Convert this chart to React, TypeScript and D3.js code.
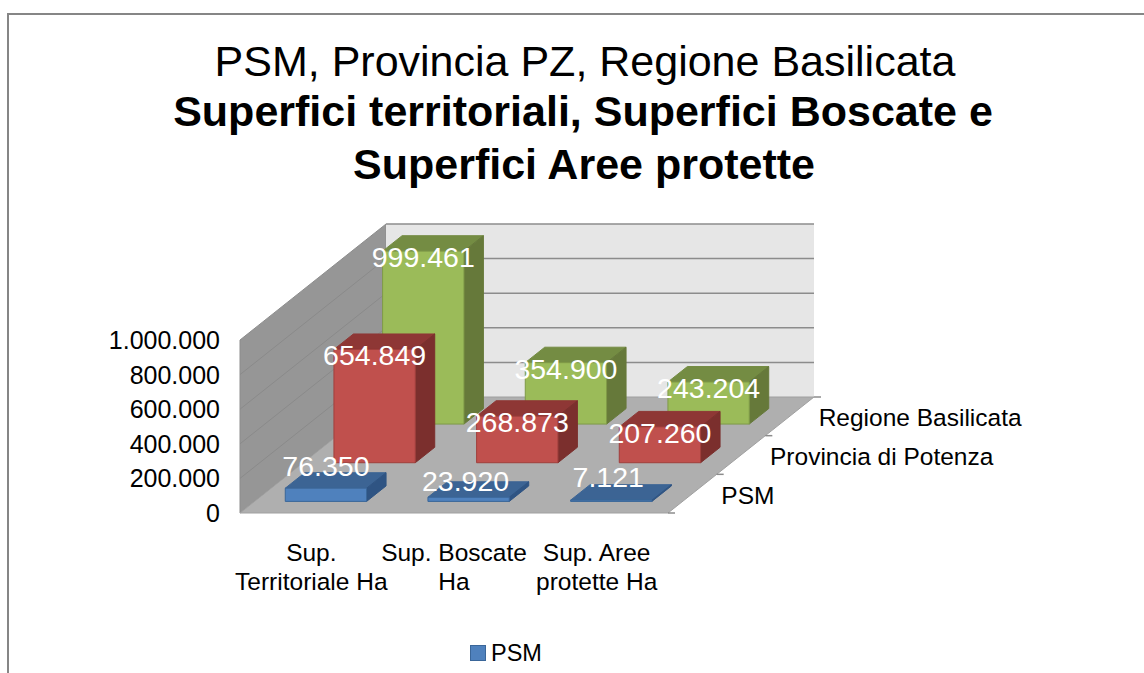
// App.tsx - PSM / Provincia / Regione 3D column chart
import React from 'react';
import * as d3 from 'd3';

const categories = [['Sup.', 'Territoriale Ha'], ['Sup. Boscate', 'Ha'], ['Sup. Aree', 'protette Ha']];
const seriesNames = ['PSM', 'Provincia di Potenza', 'Regione Basilicata'];
const psmValues = [76350, 23920, 7121];
const provinciaValues = [654849, 268873, 207260];
const regioneValues = [999461, 354900, 243204];
const valueTicks = [0, 200000, 400000, 600000, 800000, 1000000];
const legendItems = ['PSM'];

const FONT = '"Liberation Sans", Arial, sans-serif';

// face colours per series: front, top, side
const palette = [
  { front: '#4f81bd', top: '#3c6494', side: '#2f5483', edge: '#3a6699' },
  { front: '#c0504d', top: '#8e3735', side: '#7b2f2d', edge: '#a03f3c' },
  { front: '#9bbb59', top: '#748c43', side: '#66793a', edge: '#7f9a47' },
];

// floor front edge and the oblique offset of the whole depth
const x0 = 240;
const x1 = 668;
const yBase = 513;
const yTop = 340;
const depthX = 146;
const depthY = 116;

// the PSM columns are too flat to hold a label, it floats above them
const flatLabelShift = [[0, -12], [-3, -6], [-3, -13]];

const itLocale = d3.formatLocale({ decimal: ',', thousands: '.', grouping: [3], currency: ['€', ''] });
const fmt = itLocale.format(',d');

const xScale = d3.scaleBand<number>().domain([0, 1, 2]).range([x0, x1]).paddingInner(0.43).paddingOuter(0.215);
const yScale = d3.scaleLinear().domain([0, 1000000]).range([yBase, yTop]);
const zScale = d3.scaleBand<number>().domain([0, 1, 2]).range([0, 1]).paddingInner(0.6).paddingOuter(0.3);

// oblique projection: x, value, depth (0..1)
const px = (x: number, z: number) => x + z * depthX;
const py = (v: number, z: number) => yScale(v) - z * depthY;
const poly = (pts: [number, number][]) => (d3.line()(pts) as string) + 'Z';

const seriesValues = [psmValues, provinciaValues, regioneValues];

function Bar({ s, c }: { s: number; c: number }) {
  const v = seriesValues[s][c];
  const a = xScale(c)!;
  const b = a + xScale.bandwidth();
  const z0 = zScale(s)!;
  const z1 = z0 + zScale.bandwidth();
  const col = palette[s];
  return (
    <g strokeWidth={1} strokeLinejoin="round">
      <path
        d={poly([[px(a, z0), py(v, z0)], [px(b, z0), py(v, z0)], [px(b, z1), py(v, z1)], [px(a, z1), py(v, z1)]])}
        fill={col.top} stroke={col.top}
      />
      <path
        d={poly([[px(b, z0), py(0, z0)], [px(b, z0), py(v, z0)], [px(b, z1), py(v, z1)], [px(b, z1), py(0, z1)]])}
        fill={col.side} stroke={col.side}
      />
      <path
        d={poly([[px(a, z0), py(0, z0)], [px(b, z0), py(0, z0)], [px(b, z0), py(v, z0)], [px(a, z0), py(v, z0)]])}
        fill={col.front} stroke={col.edge}
      />
    </g>
  );
}

function BarLabel({ s, c }: { s: number; c: number }) {
  const v = seriesValues[s][c];
  const z0 = zScale(s)!;
  const cx = px(xScale(c)! + xScale.bandwidth() / 2, z0);
  const top = py(v, z0);
  const tall = yScale(0) - yScale(v) > 30;
  const [dx, dy] = tall ? [0, 16] : flatLabelShift[c];
  return (
    <text x={cx + dx} y={top + dy} textAnchor="middle" fontSize={28.5} fill="#fff">
      {fmt(v)}
    </text>
  );
}

export default function App() {
  const order = [2, 1, 0];
  return (
    <svg width={1144} height={673} style={{ position: 'absolute', left: 0, top: 0, background: '#fff' }} fontFamily={FONT}>
      {/* chart frame, runs off the image */}
      <path d="M8,673V14H1160" fill="none" stroke="#868686" strokeWidth={2} />

      <text textAnchor="middle" fill="#000">
        <tspan x={585} y={76} fontSize={43}>PSM, Provincia PZ, Regione Basilicata</tspan>
        <tspan x={583} y={126} fontSize={43} fontWeight="bold">Superfici territoriali, Superfici Boscate e</tspan>
        <tspan x={584} y={179} fontSize={43} fontWeight="bold">Superfici Aree protette</tspan>
      </text>

      {/* walls and floor */}
      <path d={poly([[px(x0, 0), py(0, 0)], [px(x0, 0), py(1000000, 0)], [px(x0, 1), py(1000000, 1)], [px(x0, 1), py(0, 1)]])} fill="#969696" stroke="#8c8c8c" />
      <path d={poly([[px(x0, 1), py(0, 1)], [px(x0, 1), py(1000000, 1)], [px(x1, 1), py(1000000, 1)], [px(x1, 1), py(0, 1)]])} fill="#e6e6e6" />
      <path d={poly([[px(x0, 0), py(0, 0)], [px(x1, 0), py(0, 0)], [px(x1, 1), py(0, 1)], [px(x0, 1), py(0, 1)]])} fill="#afafaf" stroke="#a0a0a0" />

      {valueTicks.map(t => (
        <g key={t} fill="none">
          {t > 0 && <line x1={px(x0, 1)} x2={px(x1, 1)} y1={py(t, 1)} y2={py(t, 1)} stroke="#8c8c8c" strokeWidth={1.5} />}
          {t > 0 && t < 1000000 && <line x1={px(x0, 0)} x2={px(x0, 1)} y1={py(t, 0)} y2={py(t, 1)} stroke="#8a8a8a" />}
        </g>
      ))}
      {/* depth tick marks on the right floor edge */}
      {[0, 1, 2, 3].map(i => {
        const z = i / 3;
        return <line key={i} x1={px(x1, z)} x2={px(x1, z) + 7} y1={py(0, z)} y2={py(0, z)} stroke="#8c8c8c" strokeWidth={1.5} />;
      })}

      {order.map(s => categories.map((_, c) => <Bar key={s + '-' + c} s={s} c={c} />))}
      {order.map(s => categories.map((_, c) => <BarLabel key={s + '-' + c} s={s} c={c} />))}

      {valueTicks.map(t => (
        <text key={t} x={220} y={yScale(t) + 9} textAnchor="end" fontSize={25} fill="#000">{fmt(t)}</text>
      ))}

      {categories.map((lines, c) => (
        <text key={c} textAnchor="middle" fontSize={24.5} fill="#000">
          {lines.map((l, i) => (
            <tspan key={i} x={xScale(c)! + xScale.bandwidth() / 2} y={561 + i * 29}>{l}</tspan>
          ))}
        </text>
      ))}

      {seriesNames.map((n, s) => {
        const z = zScale(s)! + zScale.bandwidth() / 2;
        return <text key={n} x={px(x1, z) + 29} y={py(0, z) + 10} fontSize={24.5} fill="#000">{n}</text>;
      })}

      {legendItems.map(n => (
        <g key={n}>
          <rect x={470.5} y={645.5} width={15} height={15} fill={palette[0].front} stroke={palette[0].edge} />
          <text x={491} y={661} fontSize={23.5} fill="#000">{n}</text>
        </g>
      ))}
    </svg>
  );
}
